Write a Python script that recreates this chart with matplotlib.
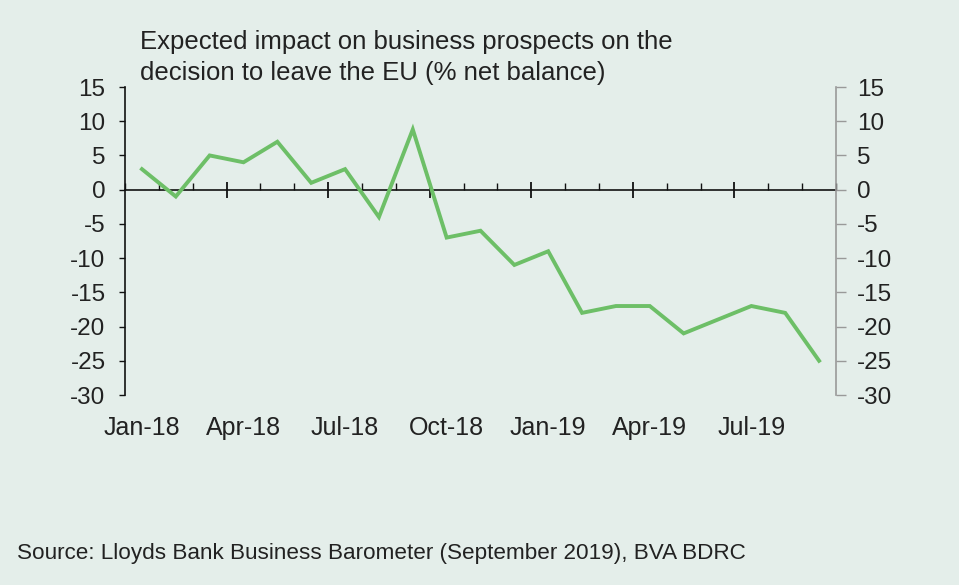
import matplotlib.pyplot as plt
from matplotlib.ticker import MultipleLocator, FixedLocator
import matplotlib.transforms as mtransforms

plt.rcParams['font.family'] = ['Liberation Sans', 'DejaVu Sans']
plt.rcParams['axes.unicode_minus'] = False

# monthly net balance, Jan-18 .. Sep-19
months = ['Jan-18', 'Feb-18', 'Mar-18', 'Apr-18', 'May-18', 'Jun-18', 'Jul-18',
          'Aug-18', 'Sep-18', 'Oct-18', 'Nov-18', 'Dec-18', 'Jan-19', 'Feb-19',
          'Mar-19', 'Apr-19', 'May-19', 'Jun-19', 'Jul-19', 'Aug-19', 'Sep-19']
net_balance = [3, -1, 5, 4, 7, 1, 3, -4, 8.8, -7, -6, -11, -9, -18,
               -17, -17, -21, -19, -17, -18, -25]
tick_labels = ['Jan-18', 'Apr-18', 'Jul-18', 'Oct-18', 'Jan-19', 'Apr-19', 'Jul-19']

bg = '#e4eeea'
green = '#6dbf67'
txt = '#222222'

fig = plt.figure(figsize=(9.59, 5.85), dpi=100, facecolor=bg)
ax = fig.add_axes([125/959, 1-395/585, (836-125)/959, (395-87)/585])
ax.set_facecolor(bg)

xs = [i + 0.5 for i in range(len(months))]
ax.plot(xs, net_balance, color=green, lw=2.8, solid_joinstyle='miter', zorder=3)

ax.set_xlim(0, len(months))
ax.set_ylim(-30, 15)

# x axis sits on zero
ax.spines['bottom'].set_position(('data', 0))
ax.spines['bottom'].set_color('#111111')
ax.spines['bottom'].set_linewidth(1.2)
ax.spines['top'].set_visible(False)
ax.spines['right'].set_visible(False)
ax.spines['left'].set_color('#111111')
ax.spines['left'].set_linewidth(1.2)

ax.xaxis.set_major_locator(FixedLocator([3, 6, 9, 12, 15, 18]))
ax.xaxis.set_minor_locator(MultipleLocator(1))
ax.tick_params(axis='x', which='major', direction='inout', length=11, width=1.3,
               color='#111111', labelbottom=False)
ax.tick_params(axis='x', which='minor', direction='in', length=5, width=1.0,
               color='#111111')

ax.yaxis.set_major_locator(MultipleLocator(5))
ax.tick_params(axis='y', direction='out', length=4, width=1.0, color='#111111',
               labelsize=17.5, labelcolor=txt, pad=10)

# month labels under the plot area
trans = mtransforms.blended_transform_factory(ax.transData, ax.transAxes)
for lab in tick_labels:
    i = months.index(lab)
    ax.text(xs[i], -33/308, lab, transform=trans, ha='center', va='center',
            fontsize=18, color=txt)

# right-hand mirror axis in grey
ax2 = ax.twinx()
ax2.set_ylim(-30, 15)
ax2.yaxis.set_major_locator(MultipleLocator(5))
for s in ['top', 'bottom', 'left']:
    ax2.spines[s].set_visible(False)
ax2.spines['right'].set_color('#999999')
ax2.spines['right'].set_linewidth(1.2)
ax2.tick_params(axis='y', direction='out', length=7, width=1.0, color='#999999',
                labelsize=17.5, labelcolor=txt, pad=8)

fig.text(140/959, 1-30/585,
         'Expected impact on business prospects on the\n'
         'decision to leave the EU (% net balance)',
         ha='left', va='top', fontsize=18.5, color=txt, linespacing=1.38)

fig.text(17/959, 1-553/585,
         'Source: Lloyds Bank Business Barometer (September 2019), BVA BDRC',
         ha='left', va='center', fontsize=16.2, color=txt)

fig.savefig('out.png', dpi=100, facecolor=bg)
